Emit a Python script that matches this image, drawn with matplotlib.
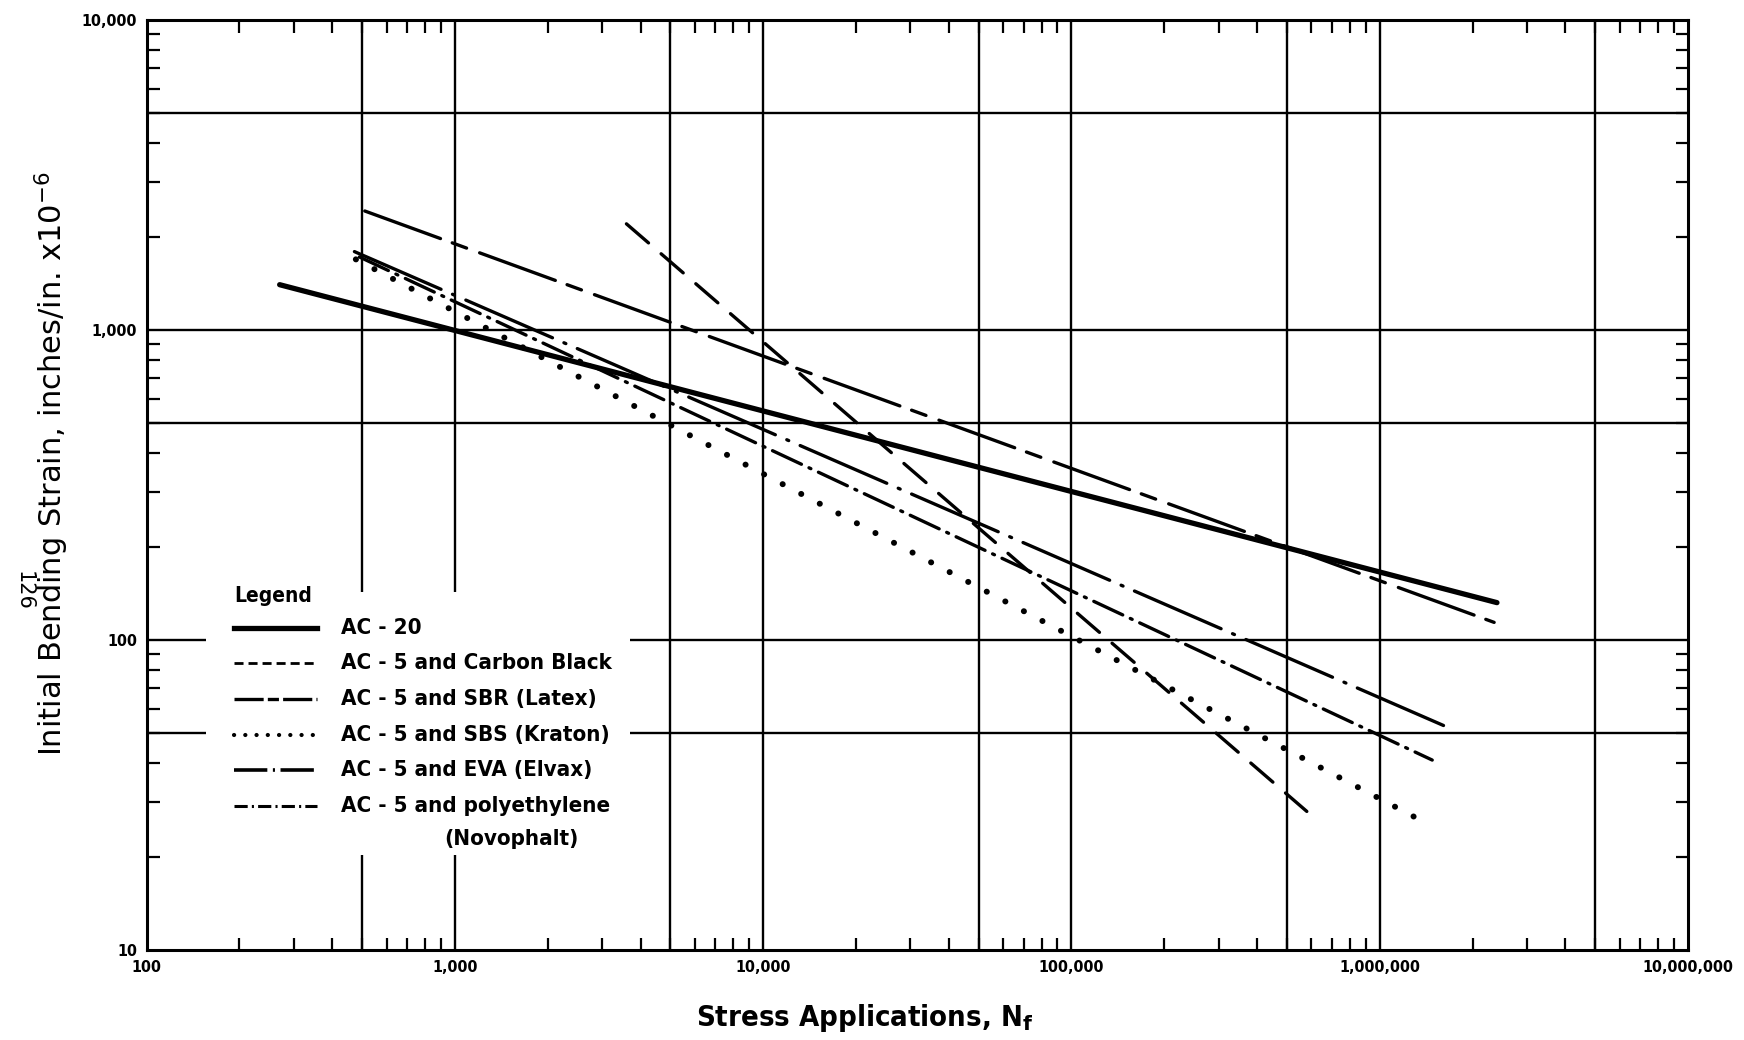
import matplotlib
matplotlib.use("Agg")
import matplotlib.pyplot as plt
from matplotlib import font_manager
from matplotlib.ticker import LogLocator, FuncFormatter, NullFormatter
from matplotlib.patches import Rectangle
from matplotlib.lines import Line2D

# fatigue lines: end points (stress applications, strain x 1e-6)
ac20_n = [270, 2.4e6]
ac20_strain = [1400, 132]
carbon_n = [3600, 5.8e5]
carbon_strain = [2200, 28]
sbr_n = [510, 2.35e6]
sbr_strain = [2420, 114]
sbs_n = [477, 1.38e6]
sbs_strain = [1690, 26]
eva_n = [472, 1.61e6]
eva_strain = [1790, 53]
poly_n = [490, 1.48e6]
poly_strain = [1720, 41]

labels = ["AC - 20", "AC - 5 and Carbon Black", "AC - 5 and SBR (Latex)",
          "AC - 5 and SBS (Kraton)", "AC - 5 and EVA (Elvax)",
          "AC - 5 and polyethylene"]
extra_label = "(Novophalt)"

x_grid = [500, 1000, 5000, 10000, 50000, 100000, 500000, 1000000, 5000000]
y_grid = [50, 100, 500, 1000, 5000]

# condensed lettering if the condensed DejaVu face is there
has_cond = any(f.name == "DejaVu Sans" and f.stretch == "condensed"
               for f in font_manager.fontManager.ttflist)
stretch = "condensed" if has_cond else "normal"
shrink = 1.0 if has_cond else 0.9

plt.rcParams["lines.scale_dashes"] = False

fig = plt.figure(figsize=(17.44, 10.40), dpi=100)
ax = fig.add_axes([0.0841, 0.0865, 0.8838, 0.8943])
ax.set_xscale("log")
ax.set_yscale("log")
ax.set_xlim(100, 1e7)
ax.set_ylim(10, 10000)

for v in x_grid:
    ax.axvline(v, color="black", lw=1.7, zorder=1)
for v in y_grid:
    ax.axhline(v, color="black", lw=1.7, zorder=1)

lw = 2.4
ax.plot(ac20_n, ac20_strain, color="black", lw=3.8, solid_capstyle="round", zorder=4)
ax.plot(carbon_n, carbon_strain, color="black", lw=lw, dashes=(21, 12),
        dash_capstyle="round", zorder=3)
ax.plot(sbr_n, sbr_strain, color="black", lw=lw, dashes=(58, 9, 11, 10),
        dash_capstyle="round", zorder=3)
ax.plot(sbs_n, sbs_strain, color="black", lw=4.3, dashes=(0.1, 15),
        dash_capstyle="round", zorder=3)
ax.plot(eva_n, eva_strain, color="black", lw=lw, dashes=(68, 9, 1.5, 9),
        dash_capstyle="round", zorder=3)
ax.plot(poly_n, poly_strain, color="black", lw=lw, dashes=(23, 6, 1.5, 6),
        dash_capstyle="round", zorder=3)

# ticks
ax.xaxis.set_major_locator(LogLocator(base=10, numticks=20))
ax.yaxis.set_major_locator(LogLocator(base=10, numticks=20))
ax.xaxis.set_minor_locator(LogLocator(base=10, subs=range(2, 10), numticks=100))
ax.yaxis.set_minor_locator(LogLocator(base=10, subs=range(2, 10), numticks=100))
fmt = FuncFormatter(lambda v, p: "{:,}".format(int(round(v))))
ax.xaxis.set_major_formatter(fmt)
ax.yaxis.set_major_formatter(fmt)
ax.xaxis.set_minor_formatter(NullFormatter())
ax.yaxis.set_minor_formatter(NullFormatter())
ax.tick_params(which="both", direction="in", top=True, right=True,
               length=9, width=1.6, color="black")
ax.tick_params(which="major", length=0, pad=7)
for lab in ax.get_xticklabels() + ax.get_yticklabels():
    lab.set_fontstretch(stretch)
    lab.set_fontweight("bold")
    lab.set_fontsize(11.5 * shrink)
for s in ax.spines.values():
    s.set_linewidth(2.2)
    s.set_zorder(5)

ax.set_xlabel("Stress Applications, N$_\\mathbf{f}$", fontstretch=stretch,
              fontweight="bold", fontsize=21 * shrink, va="top")
ax.set_ylabel("Initial Bending Strain, inches/in. x10$^{-6}$", fontsize=22)
ax.xaxis.set_label_coords(0.466, -0.056)
ax.yaxis.set_label_coords(-0.049, 0.5226)

fig.text(0.0135, 0.432, "126", rotation=-90, fontsize=15, ha="center", va="center")

# legend block, drawn over the grid
ax.add_patch(Rectangle((0.0385, 0.102), 0.275, 0.283, transform=ax.transAxes,
                       facecolor="white", edgecolor="none", zorder=2))
ax.text(0.0566, 0.3806, "Legend", transform=ax.transAxes, fontstretch=stretch,
        fontweight="bold", fontsize=15 * shrink, va="center", ha="left", zorder=6)
samples = [
    dict(lw=3.8, ls="-"),
    dict(lw=2.0, dashes=(6.5, 3.6)),
    dict(lw=2.4, dashes=(21, 3, 8, 3)),
    dict(lw=3.0, dashes=(0.1, 8), dash_capstyle="round"),
    dict(lw=2.6, dashes=(24, 4, 1.5, 4)),
    dict(lw=2.2, dashes=(9.5, 3, 1.5, 3)),
]
y0, step = 0.3466, 0.0383
for i, (lab, st) in enumerate(zip(labels, samples)):
    yy = y0 - i * step
    ax.add_line(Line2D([0.0566, 0.1105], [yy, yy], transform=ax.transAxes,
                       color="black", zorder=6, **st))
    ax.text(0.1264, yy, lab, transform=ax.transAxes, fontstretch=stretch,
            fontweight="bold", fontsize=16 * shrink, va="center", ha="left", zorder=6)
ax.text(0.2365, y0 - 6 * step + 0.0025, extra_label, transform=ax.transAxes,
        fontstretch=stretch, fontweight="bold", fontsize=16 * shrink,
        va="center", ha="center", zorder=6)

fig.savefig("out.png", dpi=100)
